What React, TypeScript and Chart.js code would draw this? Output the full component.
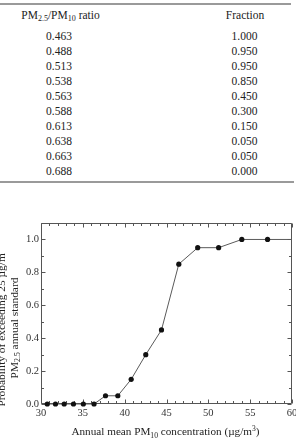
import React, { useEffect, useRef } from "react";
import { Chart, registerables } from "chart.js";

Chart.register(...registerables);

// ---------- table data ----------
const ratioLabels = ["0.463", "0.488", "0.513", "0.538", "0.563", "0.588", "0.613", "0.638", "0.663", "0.688"];
const fractionLabels = ["1.000", "0.950", "0.950", "0.850", "0.450", "0.300", "0.150", "0.050", "0.050", "0.000"];

// ---------- chart data ----------
const pm10Values = [30.75, 31.73, 32.77, 33.88, 35.06, 36.34, 37.71, 39.18, 40.78, 42.52, 44.4, 46.47, 48.73, 51.23, 54.0, 57.08, 60.0];
const probValues = [0, 0, 0, 0, 0, 0, 0.05, 0.05, 0.15, 0.3, 0.45, 0.85, 0.95, 0.95, 1.0, 1.0, 1.0];
const markerShown = [true, true, true, true, true, true, true, true, true, true, true, true, true, true, true, true, false];

const xTickValues = [30, 35, 40, 45, 50, 55, 60];
const yTickValues = [0, 0.2, 0.4, 0.6, 0.8, 1.0];
const X_MIN = 30;
const X_MAX = 60;
const Y_MIN = 0;
const Y_MAX = 1.1;
const X_MINOR = 1;
const Y_MINOR = 0.1;

const FONT = "'Liberation Serif', 'Times New Roman', serif";

type Seg = { t: string; sub?: boolean; sup?: boolean };

const xTitle: Seg[] = [
  { t: "Annual mean PM" },
  { t: "10", sub: true },
  { t: " concentration (\u00b5g/m" },
  { t: "3", sup: true },
  { t: ")" },
];
const yTitle1: Seg[] = [{ t: "Probability of exceeding 25 \u00b5g/m" }, { t: "3", sup: true }];
const yTitle2: Seg[] = [{ t: "PM" }, { t: "2.5", sub: true }, { t: " annual standard" }];

function segFont(s: Seg, size: number) {
  const sz = s.sub || s.sup ? size * 0.68 : size;
  return `${sz}px ${FONT}`;
}

function drawRich(ctx: CanvasRenderingContext2D, segs: Seg[], cx: number, baseY: number, size: number) {
  let total = 0;
  for (const s of segs) {
    ctx.font = segFont(s, size);
    total += ctx.measureText(s.t).width;
  }
  let x = cx - total / 2;
  ctx.textAlign = "left";
  ctx.textBaseline = "alphabetic";
  for (const s of segs) {
    ctx.font = segFont(s, size);
    const dy = s.sub ? size * 0.25 : s.sup ? -size * 0.38 : 0;
    ctx.fillText(s.t, x, baseY + dy);
    x += ctx.measureText(s.t).width;
  }
}

const CANVAS_TOP = 190;
const CANVAS_W = 330;
const CANVAS_H = 254;

const decorPlugin = {
  id: "decor",
  beforeDatasetsDraw(chart: any) {
    const ctx: CanvasRenderingContext2D = chart.ctx;
    const { left, right, top, bottom } = chart.chartArea;
    const xs = chart.scales.x;
    const ys = chart.scales.y;
    ctx.save();
    ctx.strokeStyle = "#555";
    ctx.lineWidth = 1;
    const L = Math.round(left) + 0.5;
    const R = Math.round(right) - 0.5;
    const T = Math.round(top) + 0.5;
    const B = Math.round(bottom) - 0.5;
    ctx.beginPath();
    ctx.rect(L, T, R - L, B - T);
    ctx.stroke();
    ctx.beginPath();
    for (let i = 0; X_MIN + i * X_MINOR <= X_MAX + 1e-9; i++) {
      const v = X_MIN + i * X_MINOR;
      const px = Math.round(xs.getPixelForValue(v)) + 0.5;
      const major = Math.abs(v / 5 - Math.round(v / 5)) < 1e-6;
      const len = major ? 4 : 2.5;
      ctx.moveTo(px, B);
      ctx.lineTo(px, B - len);
      ctx.moveTo(px, T);
      ctx.lineTo(px, T + len);
    }
    for (let i = 0; Y_MIN + i * Y_MINOR <= Y_MAX + 1e-9; i++) {
      const v = Y_MIN + i * Y_MINOR;
      const py = Math.round(ys.getPixelForValue(v)) + 0.5;
      const major = i % 2 === 0;
      const len = major ? 4 : 2.5;
      ctx.moveTo(L, py);
      ctx.lineTo(L + len, py);
      ctx.moveTo(R, py);
      ctx.lineTo(R - len, py);
    }
    ctx.stroke();
    ctx.restore();
  },
  afterDraw(chart: any) {
    const ctx: CanvasRenderingContext2D = chart.ctx;
    ctx.save();
    ctx.fillStyle = "#222";
    drawRich(ctx, xTitle, 165.5, 435 - CANVAS_TOP, 11.2);
    ctx.save();
    ctx.translate(17.5, 328 - CANVAS_TOP);
    ctx.rotate(-Math.PI / 2);
    drawRich(ctx, yTitle2, 0, 0, 11.4);
    ctx.restore();
    ctx.save();
    ctx.translate(4.5, 328 - CANVAS_TOP);
    ctx.rotate(-Math.PI / 2);
    drawRich(ctx, yTitle1, 0, 0, 11.4);
    ctx.restore();
    ctx.restore();
  },
};

function ChartBox() {
  const ref = useRef<HTMLCanvasElement | null>(null);
  useEffect(() => {
    if (!ref.current) return;
    const data = pm10Values.map((x, i) => ({ x, y: probValues[i] }));
    const chart = new Chart(ref.current, {
      type: "scatter",
      data: {
        datasets: [
          {
            data,
            showLine: true,
            borderColor: "#5a5a5a",
            borderWidth: 1,
            backgroundColor: "#111",
            pointBackgroundColor: "#111",
            pointBorderColor: "#111",
            pointBorderWidth: 0,
            pointRadius: markerShown.map((m) => (m ? 2.6 : 0)),
            pointHoverRadius: markerShown.map((m) => (m ? 2.6 : 0)),
            clip: false as any,
            tension: 0,
          },
        ],
      },
      options: {
        animation: false,
        responsive: false,
        events: [],
        layout: { padding: { left: 0, top: 33, right: CANVAS_W - 292, bottom: 0 } },
        plugins: { legend: { display: false }, tooltip: { enabled: false }, title: { display: false } },
        scales: {
          x: {
            type: "linear",
            min: X_MIN,
            max: X_MAX,
            grid: { display: false, drawTicks: false, tickLength: 0 },
            border: { display: false },
            afterBuildTicks: (s: any) => {
              s.ticks = xTickValues.map((v) => ({ value: v }));
            },
            afterFit: (s: any) => {
              s.height = CANVAS_H - 214;
            },
            ticks: {
              color: "#333",
              padding: 3,
              maxRotation: 0,
              autoSkip: false,
              font: { family: FONT, size: 10.5 },
              callback: (v: any) => String(v),
            },
          },
          y: {
            type: "linear",
            min: Y_MIN,
            max: Y_MAX,
            grid: { display: false, drawTicks: false, tickLength: 0 },
            border: { display: false },
            afterBuildTicks: (s: any) => {
              s.ticks = yTickValues.map((v) => ({ value: v }));
            },
            afterFit: (s: any) => {
              s.width = 41;
            },
            ticks: {
              color: "#333",
              padding: 2,
              autoSkip: false,
              font: { family: FONT, size: 10.5 },
              callback: (v: any) => Number(v).toFixed(1),
            },
          },
        },
      },
      plugins: [decorPlugin as any],
    });
    return () => chart.destroy();
  }, []);
  return (
    <canvas
      ref={ref}
      width={CANVAS_W}
      height={CANVAS_H}
      style={{ position: "absolute", left: 0, top: CANVAS_TOP, width: CANVAS_W, height: CANVAS_H }}
    />
  );
}

const cellText: React.CSSProperties = {
  position: "absolute",
  textAlign: "center",
  fontFamily: FONT,
  fontSize: 11.5,
  color: "#222",
  lineHeight: "15px",
  whiteSpace: "nowrap",
};

const subStyle: React.CSSProperties = { fontSize: 8, verticalAlign: "-2px", lineHeight: 0 };

function Table() {
  return (
    <>
      <div style={{ position: "absolute", left: 0, top: 3, width: 291, height: 2, background: "#9a9a9a" }} />
      <div style={{ ...cellText, left: 0, width: 121, top: 7.5 }}>
        PM<span style={subStyle}>2.5</span>/PM<span style={subStyle}>10</span> ratio
      </div>
      <div style={{ ...cellText, left: 195, width: 100, top: 7.5 }}>Fraction</div>
      {ratioLabels.map((r, i) => (
        <React.Fragment key={r}>
          <div style={{ ...cellText, left: 0, width: 118, top: 28.5 + i * 15.05 }}>{r}</div>
          <div style={{ ...cellText, left: 195, width: 99, top: 28.5 + i * 15.05 }}>{fractionLabels[i]}</div>
        </React.Fragment>
      ))}
      <div style={{ position: "absolute", left: 0, top: 181, width: 294, height: 2, background: "#9a9a9a" }} />
    </>
  );
}

export default function App() {
  return (
    <div
      style={{
        position: "absolute",
        left: 0,
        top: 0,
        width: 296,
        height: 444,
        overflow: "hidden",
        background: "#fff",
      }}
    >
      <Table />
      <ChartBox />
    </div>
  );
}
